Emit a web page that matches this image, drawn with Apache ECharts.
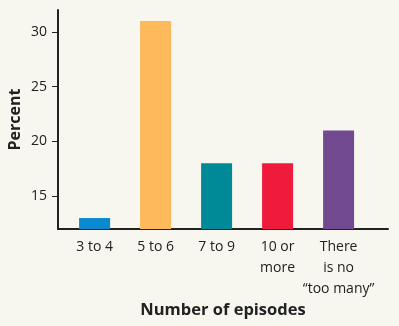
<!DOCTYPE html>
<html><head><meta charset="utf-8">
<script src="https://cdn.jsdelivr.net/npm/echarts@6/dist/echarts.min.js"></script>
<style>html,body{margin:0;padding:0;background:#f7f7ef;}#c{width:399px;height:326px;}</style>
</head><body><div id="c"></div>
<script>
const categories = ['3 to 4', '5 to 6', '7 to 9', '10 or\nmore', 'There\nis no\n\u201ctoo many\u201d'];
const percents = [13, 31, 18, 18, 21];
const barColors = ['#0a88d0', '#fdb95a', '#008a98', '#ee1b3d', '#714a91'];
const yTicks = [15, 20, 25, 30];

const chart = echarts.init(document.getElementById('c'));
const font = 'Open Sans';
chart.setOption({
  backgroundColor: '#f7f7ef',
  animation: false,
  grid: { left: 58, right: 11, top: 10, bottom: 97, containLabel: false, outerBoundsMode: 'none' },
  xAxis: {
    type: 'value', min: -0.6, max: 4.81,
    name: 'Number of episodes', nameLocation: 'middle', nameGap: 73, nameMoveOverlap: false,
    nameTextStyle: { fontFamily: font, fontSize: 16.5, fontWeight: 'bold', color: '#222' },
    axisLine: { show: true, onZero: false, lineStyle: { color: '#222', width: 2 } },
    axisTick: { show: false },
    splitLine: { show: false },
    axisLabel: {
      customValues: [0, 1, 2, 3, 4],
      formatter: v => categories[Math.round(v)],
      fontFamily: font, fontSize: 14, color: '#222', lineHeight: 21, margin: 8
    }
  },
  yAxis: {
    type: 'value', min: 12, max: 32,
    name: 'Percent', nameLocation: 'middle', nameGap: 35, nameRotate: 90, nameMoveOverlap: false,
    nameTextStyle: { fontFamily: font, fontSize: 16, fontWeight: 'bold', color: '#222' },
    axisLine: { show: true, onZero: false, lineStyle: { color: '#222', width: 2 } },
    axisTick: { show: true, length: 6, customValues: yTicks, lineStyle: { color: '#222', width: 1 } },
    splitLine: { show: false },
    axisLabel: { customValues: yTicks, fontFamily: font, fontSize: 14, color: '#222', margin: 11 }
  },
  series: [{
    type: 'bar', barWidth: 31,
    data: percents.map((p, i) => ({ value: [i, p], itemStyle: { color: barColors[i] } }))
  }]
});
</script></body></html>
